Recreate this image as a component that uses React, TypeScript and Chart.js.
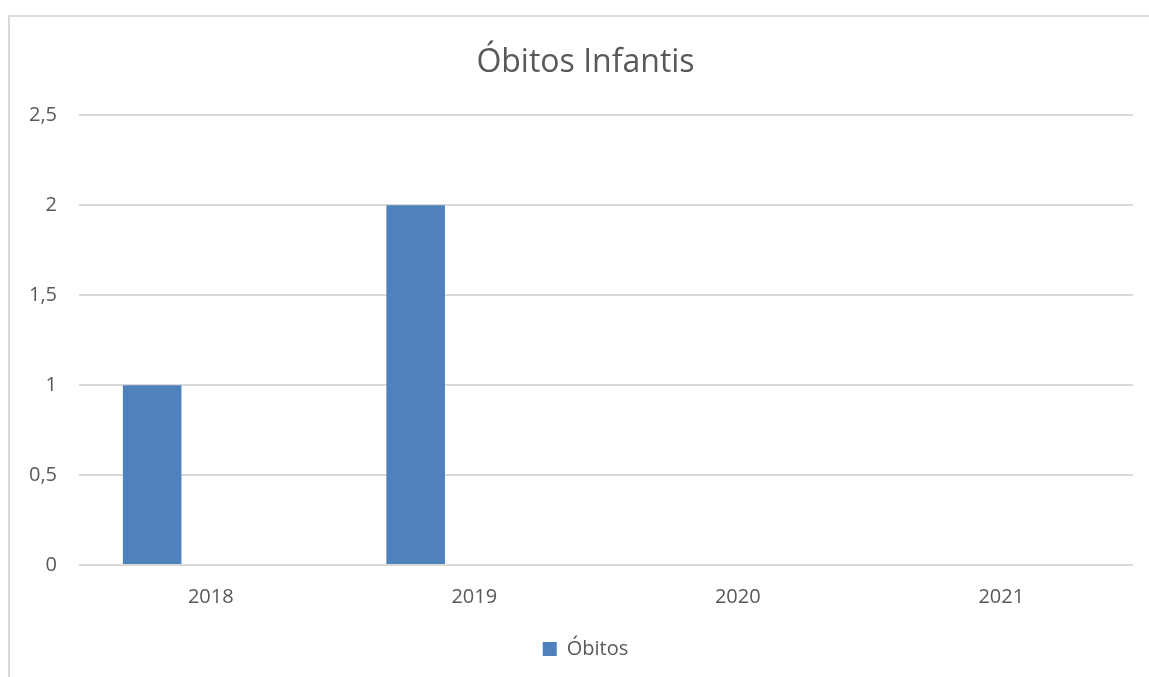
import React, { useEffect, useRef } from "react";
import { Chart, registerables } from "chart.js";

Chart.register(...registerables);

const categories: string[] = ["2018", "2019", "2020", "2021"];
const obitos: (number | null)[] = [1, 2, null, null];
const emptySeriesA: (number | null)[] = [null, null, null, null];
const emptySeriesB: (number | null)[] = [null, null, null, null];
const seriesName = "Óbitos";
const chartTitle = "Óbitos Infantis";
const yMax = 2.5;
const yStep = 0.5;

const FONT = "'Open Sans', 'Noto Sans', sans-serif";
const TEXT = "#595959";
const GRID = "#D9D9D9";
const BAR = "#4F81BD";

export default function App() {
  const ref = useRef<HTMLCanvasElement | null>(null);

  useEffect(() => {
    if (!ref.current) return;
    const chart = new Chart(ref.current, {
      type: "bar",
      data: {
        labels: categories,
        datasets: [
          { label: seriesName, data: obitos, backgroundColor: BAR, borderWidth: 0 },
          { label: "_a", data: emptySeriesA, backgroundColor: "transparent" },
          { label: "_b", data: emptySeriesB, backgroundColor: "transparent" },
        ],
      },
      options: {
        animation: false,
        responsive: true,
        maintainAspectRatio: false,
        datasets: { bar: { categoryPercentage: 0.667, barPercentage: 1.0 } },
        layout: { padding: { left: 0, right: 0, top: 0, bottom: 28 } },
        plugins: {
          title: {
            display: true,
            text: chartTitle,
            color: TEXT,
            font: { family: FONT, size: 32, weight: "normal" },
            padding: { top: 27, bottom: 33 },
          },
          legend: {
            position: "bottom",
            labels: {
              color: TEXT,
              font: { family: FONT, size: 20 },
              boxWidth: 14,
              boxHeight: 14,
              padding: 10,
              filter: (item) => item.datasetIndex === 0,
            },
          },
          tooltip: { enabled: false },
        },
        scales: {
          x: {
            grid: { display: false, drawTicks: false },
            border: { display: false },
            ticks: { color: TEXT, font: { family: FONT, size: 20 }, padding: 20 },
          },
          y: {
            min: 0,
            max: yMax,
            grid: { color: GRID, lineWidth: 2, drawTicks: false },
            border: { display: false },
            ticks: {
              stepSize: yStep,
              color: TEXT,
              font: { family: FONT, size: 20 },
              padding: 22,
              callback: (v) => String(v).replace(".", ","),
            },
            afterFit: (s) => {
              s.width = 69;
            },
          },
          yRight: {
            position: "right",
            display: true,
            grid: { display: false, drawTicks: false },
            border: { display: false },
            ticks: { display: false },
            afterFit: (s) => {
              s.width = 28;
            },
          },
        },
      },
    });
    return () => chart.destroy();
  }, []);

  return (
    <div
      style={{
        position: "fixed",
        left: 8,
        top: 15,
        width: 1170,
        height: 720,
        border: "2px solid #D9D9D9",
        boxSizing: "border-box",
        background: "#fff",
      }}
    >
      <div style={{ position: "absolute", left: 0, top: 0, width: 1151, height: 680 }}>
        <canvas ref={ref} />
      </div>
    </div>
  );
}
